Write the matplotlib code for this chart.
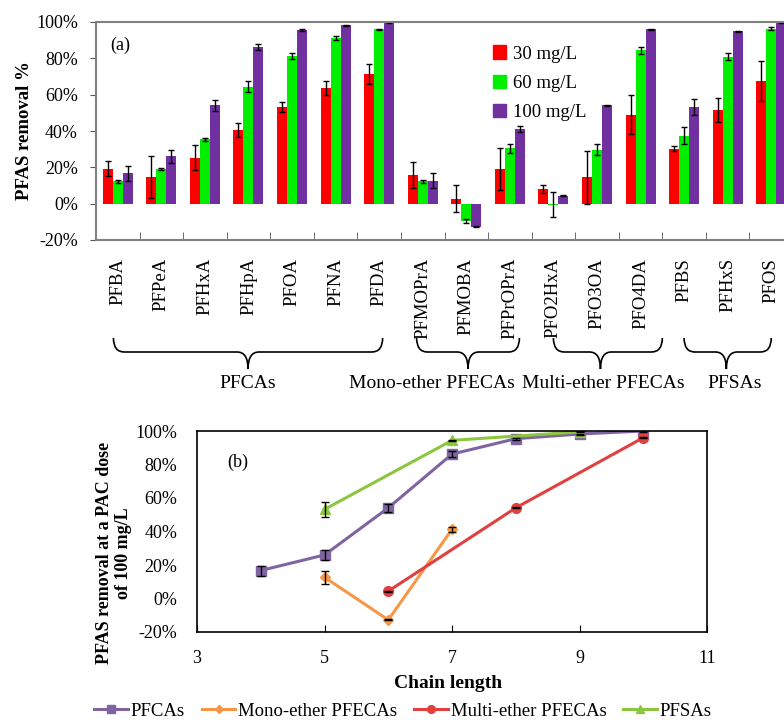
import numpy as np
import matplotlib
matplotlib.use('Agg')
import matplotlib.pyplot as plt
import matplotlib.patches as patches
import matplotlib.path as mpath
from matplotlib.ticker import FuncFormatter, FixedLocator
from matplotlib.transforms import blended_transform_factory
from matplotlib.lines import Line2D

plt.rcParams['font.family'] = ['Liberation Serif', 'DejaVu Serif']
plt.rcParams['axes.unicode_minus'] = False

# ---- panel (a) data ----
compounds = ['PFBA', 'PFPeA', 'PFHxA', 'PFHpA', 'PFOA', 'PFNA', 'PFDA',
             'PFMOPrA', 'PFMOBA', 'PFPrOPrA',
             'PFO2HxA', 'PFO3OA', 'PFO4DA',
             'PFBS', 'PFHxS', 'PFOS']
doses = ['30 mg/L', '60 mg/L', '100 mg/L']
rem30 = [19.3, 14.7, 25.3, 40.4, 53.2, 63.7, 71.2, 15.8, 2.8, 18.9, 8.3, 14.5, 49.0, 30.3, 51.6, 67.5]
rem60 = [12.3, 18.9, 35.4, 64.4, 81.3, 91.2, 96.0, 12.3, -9.7, 30.5, -0.5, 29.7, 84.4, 37.4, 80.9, 96.3]
rem100 = [16.7, 26.0, 54.1, 86.2, 95.4, 98.2, 100.0, 12.7, -12.8, 41.3, 4.4, 54.1, 96.0, 53.2, 95.0, 100.0]
err30 = [4.0, 11.7, 7.0, 3.8, 2.7, 3.8, 5.5, 7.0, 7.6, 11.5, 2.2, 14.5, 10.7, 1.5, 6.6, 10.8]
err60 = [1.0, 0.5, 1.0, 3.0, 1.5, 1.0, 0.3, 1.0, 1.2, 2.5, 7.0, 3.0, 1.8, 4.6, 2.0, 0.8]
err100 = [4.0, 3.5, 3.0, 1.8, 0.5, 0.3, 0.3, 4.0, 0.3, 1.6, 0.3, 0.3, 0.3, 4.6, 0.3, 0.3]
bar_colors = ['#FF0000', '#00EE00', '#7030A0']

groups = ['PFCAs', 'Mono-ether PFECAs', 'Multi-ether PFECAs', 'PFSAs']

# ---- panel (b) data: chain length vs removal at 100 mg/L ----
pfca_chain = [4, 5, 6, 7, 8, 9, 10]
pfca_rem = [16.7, 26.0, 54.1, 86.2, 95.4, 98.2, 100.0]
pfca_err = [3.0, 3.0, 2.5, 1.8, 0.5, 0.3, 0.3]
mono_chain = [5, 6, 7]
mono_rem = [12.7, -12.8, 41.3]
mono_err = [4.0, 0.3, 1.6]
multi_chain = [6, 8, 10]
multi_rem = [4.4, 54.1, 96.0]
multi_err = [0.3, 0.3, 0.3]
pfsa_chain = [5, 7, 9]
pfsa_rem = [53.2, 94.4, 99.5]
pfsa_err = [4.6, 0.3, 0.3]

W, H = 784, 720
fig = plt.figure(figsize=(W / 100, H / 100), dpi=100)

def px(l, t, r, b):
    return [l / W, 1 - b / H, (r - l) / W, (b - t) / H]

pct = FuncFormatter(lambda v, p: '%d%%' % round(v))

# ================= panel (a) =================
ax = fig.add_axes(px(96, 22, 793, 240))
x = np.arange(len(compounds))
bw = 0.23
for k, (vals, errs) in enumerate([(rem30, err30), (rem60, err60), (rem100, err100)]):
    ax.bar(x + (k - 1) * bw, vals, bw, color=bar_colors[k], yerr=errs,
           error_kw=dict(ecolor='black', elinewidth=1, capsize=2.5, capthick=1),
           label=doses[k], zorder=2)
ax.set_xlim(-0.5, len(compounds) - 0.5)
ax.set_ylim(-20, 100)
ax.set_yticks(np.arange(-20, 101, 20))
ax.yaxis.set_major_formatter(pct)
ax.set_xticks(x)
ax.set_xticklabels(compounds, rotation=90, va='top', fontsize=13.5)
ax.xaxis.set_minor_locator(FixedLocator(np.arange(0.5, len(compounds) - 1, 1)))
ax.tick_params(axis='x', which='major', length=0, pad=13)
ax.tick_params(axis='x', which='minor', direction='in', length=6, color='#555555')
ax.tick_params(axis='y', direction='out', length=4, labelsize=13, color='#555555', pad=9)
for s in ax.spines.values():
    s.set_color('#808080')
    s.set_linewidth(1.5)
ax.set_ylabel('PFAS removal %', fontsize=13.5, fontweight='bold', labelpad=2)
ax.text(0.02, 0.87, '(a)', transform=ax.transAxes, fontsize=13)

handles = [patches.Patch(color=c) for c in bar_colors]
ax.legend(handles, doses, loc='upper left', bbox_to_anchor=(0.545, 0.97),
          frameon=False, fontsize=13.5, handlelength=0.7, handleheight=0.7,
          handletextpad=0.4, labelspacing=0.65)

# braces under the group labels
tr = blended_transform_factory(ax.transData, fig.transFigure)
y_top = 1 - 338 / H
y_mid = 1 - 352 / H
y_tip = 1 - 369 / H
braces = [(-0.1, 2.99, 6.08), (6.86, 8.04, 9.22), (10.0, 11.08, 12.5), (13.0, 13.97, 15.0)]
d = 0.25
for x0, xc, x1 in braces:
    verts = [(x0, y_top), (x0, y_mid), (x0 + d, y_mid), (xc - d, y_mid),
             (xc, y_mid), (xc, y_tip),
             (xc, y_mid), (xc + d, y_mid), (x1 - d, y_mid),
             (x1, y_mid), (x1, y_top)]
    codes = [mpath.Path.MOVETO, mpath.Path.CURVE3, mpath.Path.CURVE3, mpath.Path.LINETO,
             mpath.Path.CURVE3, mpath.Path.CURVE3,
             mpath.Path.CURVE3, mpath.Path.CURVE3, mpath.Path.LINETO,
             mpath.Path.CURVE3, mpath.Path.CURVE3]
    fig.add_artist(patches.PathPatch(mpath.Path(verts, codes), transform=tr,
                                     facecolor='none', edgecolor='black', lw=1.2))

for name, cx in zip(groups, [248, 432, 603, 735]):
    fig.text(cx / W, 1 - 384 / H, name, ha='center', va='center', fontsize=14)

# ================= panel (b) =================
bx = fig.add_axes(px(197, 431, 707, 632))
series = [
    (pfca_chain, pfca_rem, pfca_err, '#8064A2', 's', 7, 'PFCAs'),
    (mono_chain, mono_rem, mono_err, '#F79646', 'D', 5, 'Mono-ether PFECAs'),
    (multi_chain, multi_rem, multi_err, '#E0403F', 'o', 7, 'Multi-ether PFECAs'),
    (pfsa_chain, pfsa_rem, pfsa_err, '#8CC63F', '^', 7.5, 'PFSAs'),
]
for cx, cy, ce, col, mk, ms, lab in series:
    bx.errorbar(cx, cy, yerr=ce, fmt='none', ecolor='black', elinewidth=1,
                capsize=3, capthick=1, zorder=3)
    bx.plot(cx, cy, color=col, marker=mk, markersize=ms, lw=2.2, label=lab, zorder=2)
bx.set_xlim(3, 11)
bx.set_ylim(-20, 100)
bx.set_xticks([3, 5, 7, 9, 11])
bx.set_yticks(np.arange(-20, 101, 20))
bx.yaxis.set_major_formatter(pct)
bx.tick_params(axis='x', direction='in', length=5, labelsize=13, pad=13)
bx.tick_params(axis='y', direction='out', length=0, labelsize=13, pad=14)
for s in bx.spines.values():
    s.set_linewidth(1.2)
bx.text(0.06, 0.82, '(b)', transform=bx.transAxes, fontsize=13)
fig.text(448 / W, 1 - 683 / H, 'Chain length', ha='center', va='center',
         fontsize=14, fontweight='bold')
fig.text(114 / W, 1 - 553 / H, 'PFAS removal at a PAC dose\nof 100 mg/L', rotation=90,
         ha='center', va='center', multialignment='center', fontsize=13,
         fontweight='bold', linespacing=1.15)

leg_handles = [Line2D([], [], color=c, marker=m, markersize=ms * 0.8, lw=2.2)
               for _, _, _, c, m, ms, _ in series]
fig.legend(leg_handles, [s[-1] for s in series], loc='center', ncol=4,
           bbox_to_anchor=(403 / W, 1 - 711 / H), frameon=False, fontsize=13.5,
           handlelength=1.8, handletextpad=0.15, columnspacing=0.9,
           borderpad=0.1)

fig.savefig('out.png', dpi=100)
